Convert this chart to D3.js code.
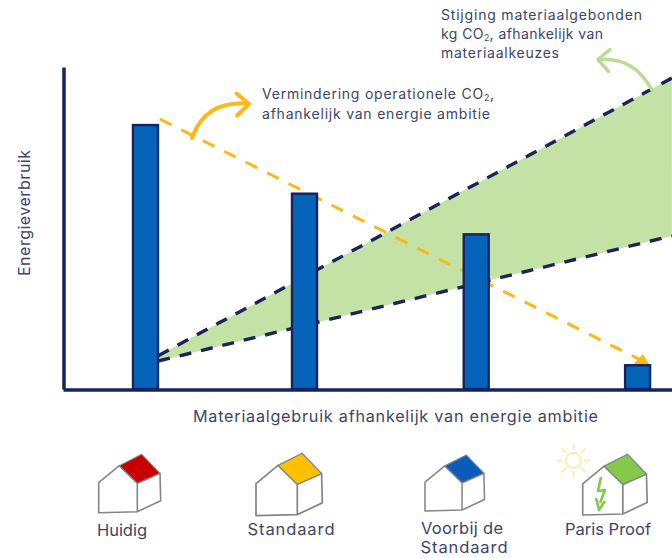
<!DOCTYPE html>
<html lang="nl">
<head>
<meta charset="utf-8">
<title>Energieverbruik en materiaalgebruik per energie ambitie</title>
<script src="https://cdn.jsdelivr.net/npm/d3@7/dist/d3.min.js"></script>
<style>
  html, body { margin: 0; padding: 0; background: #fff; }
  svg { display: block; }
  text { font-family: Inter, "Open Sans", sans-serif; fill: #3d4568; }
</style>
</head>
<body>
<svg id="chart" width="672" height="558"></svg>
<script>
// Ambition levels and their operational energy use (arbitrary units)
const categories = ["Huidig", "Standaard", "Voorbij de Standaard", "Paris Proof"];
const ambitionPosition = [0, 1, 2.08, 3.095];
const energyUse = [100, 74, 58.6, 9];

// Dashed trend of operational CO2: [ambition, energy]
const operationalTrend = [[0.09, 102.3], [3.14, 10.2]];

// Material-bound CO2 band: shared ambition stops, lower and upper edge
const bandAmbition = [0.08, 3.31];
const bandLower = [10.6, 58];
const bandUpper = [12.6, 117.8];

const roofColors = ["#c80000", "#ffc000", "#0a5cb8", "#84c94a"];

const navy = "#14245f";
const svg = d3.select("#chart");

const x = d3.scaleLinear().domain([0, 1]).range([145.5, 304.5]);
const y = d3.scaleLinear().domain([0, 122]).range([389, 67]);

// Green band of material-bound CO2
const bandData = bandAmbition.map((a, i) => ({ a, lo: bandLower[i], hi: bandUpper[i] }));
svg.append("path")
  .datum(bandData)
  .attr("fill", "#c5e2a6")
  .attr("d", d3.area().x(d => x(d.a)).y0(d => y(d.lo)).y1(d => y(d.hi)));

// Dashed edges of the band
const edge = d3.line().x(d => x(d[0])).y(d => y(d[1]));
[bandLower, bandUpper].forEach(vals => {
  svg.append("path")
    .attr("d", edge(bandAmbition.map((a, i) => [a, vals[i]])))
    .attr("fill", "none")
    .attr("stroke", "#1a2458")
    .attr("stroke-width", 3.4)
    .attr("stroke-dasharray", "12 10");
});

// Falling operational CO2 line with its arrow head
svg.append("path")
  .attr("d", edge(operationalTrend))
  .attr("fill", "none")
  .attr("stroke", "#fbb917")
  .attr("stroke-width", 3)
  .attr("stroke-dasharray", "13 11");

const tip = [x(operationalTrend[1][0]) + 5, y(operationalTrend[1][1]) + 3];
svg.append("path")
  .attr("d", `M${tip[0]},${tip[1]}L${tip[0] - 17},${tip[1]}L${tip[0] - 7},${tip[1] - 11}Z`)
  .attr("fill", "#fbb917");

// Energy bars
const barWidth = 25;
svg.append("g").selectAll("rect")
  .data(categories)
  .join("rect")
  .attr("x", (d, i) => x(ambitionPosition[i]) - barWidth / 2)
  .attr("y", (d, i) => y(energyUse[i]))
  .attr("width", barWidth)
  .attr("height", (d, i) => y(0) - y(energyUse[i]))
  .attr("fill", "#0563b9")
  .attr("stroke", navy)
  .attr("stroke-width", 2.4);

// Axes: plain lines without ticks
const xAxis = d3.scaleLinear().domain([0, 1]).range([63, 672]);
svg.append("g").attr("transform", "translate(0,389.5)")
  .call(d3.axisBottom(xAxis).tickValues([]).tickSizeOuter(0))
  .select(".domain").attr("stroke", navy).attr("stroke-width", 3.5);
svg.append("g").attr("transform", "translate(63.5,0)")
  .call(d3.axisLeft(y).tickValues([]).tickSizeOuter(0))
  .select(".domain").attr("stroke", navy).attr("stroke-width", 3.5);

// Curved call-out arrows
function callout(curve, head, color, width) {
  svg.append("path").attr("d", curve).attr("fill", "none")
    .attr("stroke", color).attr("stroke-width", width).attr("stroke-linecap", "round");
  svg.append("path").attr("d", head).attr("fill", "none")
    .attr("stroke", color).attr("stroke-width", width)
    .attr("stroke-linecap", "round").attr("stroke-linejoin", "round");
}
callout("M192,138C201,113 218,102 248,103.5", "M236.5,93.5L249,104L237,115.5", "#fbb917", 4);
callout("M652,90C640,68 624,58 599,59.5", "M610,49.5L598,59.5L608.5,71.5", "#b6dc95", 3.5);

// Text line, with "CO" followed by a lowered small 2 where a tail is given
function label(xp, yp, head, tail, size, anchor, fit) {
  const t = svg.append("text").attr("x", xp).attr("y", yp)
    .attr("font-size", size).attr("text-anchor", anchor || "start");
  if (fit) t.attr("textLength", fit).attr("lengthAdjust", "spacing");
  t.append("tspan").text(head);
  if (tail !== null) {
    t.append("tspan").attr("font-size", size * 0.62).attr("dy", 2).text("2");
    t.append("tspan").attr("dy", -2).text(tail);
  }
  return t;
}
label(262, 99, "Vermindering operationele CO", ",", 14, "start", 232);
label(262, 119, "afhankelijk van energie ambitie", null, 14, "start", 228);
label(441, 20, "Stijging materiaalgebonden", null, 14, "start", 201);
label(441, 39, "kg CO", ", afhankelijk van", 14, "start", 162);
label(441, 58, "materiaalkeuzes", null, 14, "start", 118);
label(193, 422, "Materiaalgebruik afhankelijk van energie ambitie", null, 16.2, "start", 405);

svg.append("text")
  .attr("transform", "translate(30,213) rotate(-90)")
  .attr("text-anchor", "middle")
  .attr("font-size", 16)
  .attr("textLength", 126)
  .text("Energieverbruik");

// House icons, one per ambition level
const houseSpots = [
  { px: 98.7, py: 512.7, k: 1 },
  { px: 256, py: 515.7, k: 1.07 },
  { px: 425, py: 511, k: 0.96 },
  { px: 582.7, py: 515, k: 1.04 }
];
const wallOutline = "M0,0L38.6,-1L62,-12L61.3,-39.4L38.6,-29.4L20.6,-47L0,-30Z";
const wallEdge = "M38.6,-1L38.6,-29.4";
const roof = "M20.6,-47L43,-58.4L61.3,-39.4L38.6,-29.4Z";

const houses = svg.append("g").selectAll("g")
  .data(houseSpots)
  .join("g")
  .attr("transform", d => `translate(${d.px},${d.py}) scale(${d.k})`);
houses.append("path").attr("d", wallOutline).attr("fill", "#fff")
  .attr("stroke", "#858585").attr("stroke-width", 1.6).attr("stroke-linejoin", "round");
houses.append("path").attr("d", wallEdge).attr("fill", "none")
  .attr("stroke", "#858585").attr("stroke-width", 1.6);
houses.append("path").attr("d", roof)
  .attr("fill", (d, i) => roofColors[i])
  .attr("stroke", "#858585").attr("stroke-width", 1.2).attr("stroke-linejoin", "round");

// Lightning bolt on the Paris Proof house
svg.append("path")
  .attr("d", "M601,477L598,491L605,490L600,503M596,498L599,510L605,501")
  .attr("fill", "none").attr("stroke", "#84c94a").attr("stroke-width", 2.6)
  .attr("stroke-linejoin", "round");

// Sun beside the Paris Proof house
const sun = svg.append("g").attr("transform", "translate(573.5,460.5)")
  .attr("stroke", "#f5edb0").attr("fill", "none").attr("stroke-width", 1.8);
sun.append("circle").attr("r", 7.5);
d3.range(8).forEach(i => {
  const a = i * Math.PI / 4;
  sun.append("line")
    .attr("x1", 10.5 * Math.cos(a)).attr("y1", 10.5 * Math.sin(a))
    .attr("x2", 17 * Math.cos(a)).attr("y2", 17 * Math.sin(a));
});

// Category names under the houses
label(122, 536, categories[0], null, 16.5, "middle", 50);
label(291, 535, categories[1], null, 16.5, "middle", 87);
label(462, 534, "Voorbij de", null, 16.5, "middle", 82);
label(464, 553, "Standaard", null, 16.5, "middle", 87);
label(608, 535, categories[3], null, 16.5, "middle", 86);
</script>
</body>
</html>
